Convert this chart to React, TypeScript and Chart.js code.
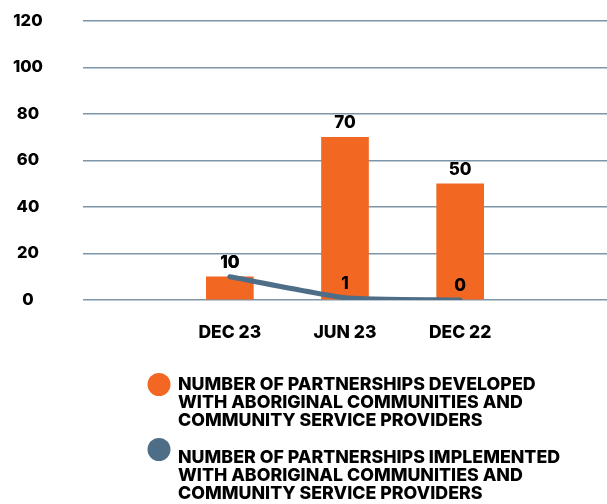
import React, { useEffect, useRef } from "react";
import { Chart, registerables } from "chart.js";

Chart.register(...registerables);

const categories = ["DEC 23", "JUN 23", "DEC 22"];
const developed = [10, 70, 50];
const implemented = [10, 1, 0];
const yTickValues = [0, 20, 40, 60, 80, 100, 120];
const seriesLabels = [
  ["NUMBER OF PARTNERSHIPS DEVELOPED", "WITH ABORIGINAL COMMUNITIES AND", "COMMUNITY SERVICE PROVIDERS"],
  ["NUMBER OF PARTNERSHIPS IMPLEMENTED", "WITH ABORIGINAL COMMUNITIES AND", "COMMUNITY SERVICE PROVIDERS"],
];
const seriesColors = ["#F26722", "#4E6D86"];

const FONT = "Inter";
const WEIGHT = 800;
const TEXT_COLOR = "#000000";
const GRID_COLOR = "#7f95a8";

const valueLabelPlugin = {
  id: "valueLabels",
  afterDatasetsDraw(chart: any) {
    const ctx = chart.ctx;
    ctx.save();
    ctx.font = `${WEIGHT} 17px ${FONT}`;
    ctx.fillStyle = TEXT_COLOR;
    ctx.textAlign = "center";
    ctx.textBaseline = "middle";
    chart.data.datasets.forEach((ds: any, di: number) => {
      const meta = chart.getDatasetMeta(di);
      meta.data.forEach((el: any, i: number) => {
        const v = ds.data[i].y;
        const p = el.getProps(["x", "y"], true);
        ctx.fillText(String(v), p.x, p.y - 14);
      });
    });
    ctx.restore();
  },
};

const legendPlugin = {
  id: "stackedLegend",
  afterDraw(chart: any) {
    const { ctx, chartArea } = chart;
    const circleX = chartArea.left + 76;
    const textX = chartArea.left + 95;
    const textTops = [chartArea.bottom + 84.5, chartArea.bottom + 157.5];
    const circleYs = [chartArea.bottom + 84.5, chartArea.bottom + 149.5];
    const lineH = 18.2;
    ctx.save();
    ctx.font = `${WEIGHT} 17.8px ${FONT}`;
    ctx.textAlign = "left";
    ctx.textBaseline = "middle";
    chart.data.datasets.forEach((ds: any) => {
      const idx = ds.legendIndex;
      ctx.fillStyle = seriesColors[idx];
      ctx.beginPath();
      ctx.arc(circleX, circleYs[idx], 11.5, 0, Math.PI * 2);
      ctx.fill();
      ctx.fillStyle = TEXT_COLOR;
      seriesLabels[idx].forEach((line, li) => {
        ctx.fillText(line, textX, textTops[idx] + li * lineH);
      });
    });
    ctx.restore();
  },
};

export default function App() {
  const ref = useRef<HTMLCanvasElement>(null);
  useEffect(() => {
    if (!ref.current) return;
    const chart = new Chart(ref.current, {
      type: "bar",
      data: {
        datasets: [
          {
            type: "line",
            label: seriesLabels[1].join(" "),
            legendIndex: 1,
            data: categories.map((_, i) => ({ x: i, y: implemented[i] })),
            borderColor: seriesColors[1],
            backgroundColor: seriesColors[1],
            borderWidth: 5,
            borderCapStyle: "round",
            borderJoinStyle: "round",
            pointRadius: 0,
            tension: 0.15,
            order: 0,
          } as any,
          {
            type: "bar",
            label: seriesLabels[0].join(" "),
            legendIndex: 0,
            data: categories.map((_, i) => ({ x: i, y: developed[i] })),
            backgroundColor: seriesColors[0],
            barThickness: 47,
            order: 1,
          } as any,
        ],
      },
      options: {
        animation: false,
        responsive: true,
        maintainAspectRatio: false,
        layout: { padding: { top: 21, right: 0, bottom: 162, left: 0 } },
        plugins: {
          legend: { display: false },
          tooltip: { enabled: false },
        },
        scales: {
          x: {
            type: "linear",
            min: -1.275,
            max: 3.275,
            offset: false,
            grid: { display: false, drawTicks: false },
            border: { display: false },
            afterBuildTicks: (scale: any) => {
              scale.ticks = categories.map((_, i) => ({ value: i }));
            },
            afterFit: (scale: any) => {
              scale.height = 42;
              scale.paddingLeft = 0;
              scale.paddingRight = 0;
            },
            ticks: {
              autoSkip: false,
              maxRotation: 0,
              padding: 22,
              color: TEXT_COLOR,
              font: { family: FONT, size: 17.5, weight: WEIGHT },
              callback: (v: any) => categories[v] ?? "",
            },
          },
          y: {
            min: 0,
            max: 120,
            afterBuildTicks: (scale: any) => {
              scale.ticks = yTickValues.map((v) => ({ value: v }));
            },
            afterFit: (scale: any) => {
              scale.width = 83;
              scale.paddingTop = 0;
              scale.paddingBottom = 0;
            },
            grid: { color: GRID_COLOR, lineWidth: 1.5, drawTicks: false },
            border: { display: false },
            ticks: {
              crossAlign: "center",
              padding: 40,
              color: TEXT_COLOR,
              font: { family: FONT, size: 16.5, weight: WEIGHT },
            },
          },
        },
      } as any,
      plugins: [valueLabelPlugin, legendPlugin],
    });
    return () => chart.destroy();
  }, []);
  return (
    <div style={{ position: "absolute", left: 0, top: 0, width: 607, height: 504, background: "#ffffff" }}>
      <canvas ref={ref} />
    </div>
  );
}
